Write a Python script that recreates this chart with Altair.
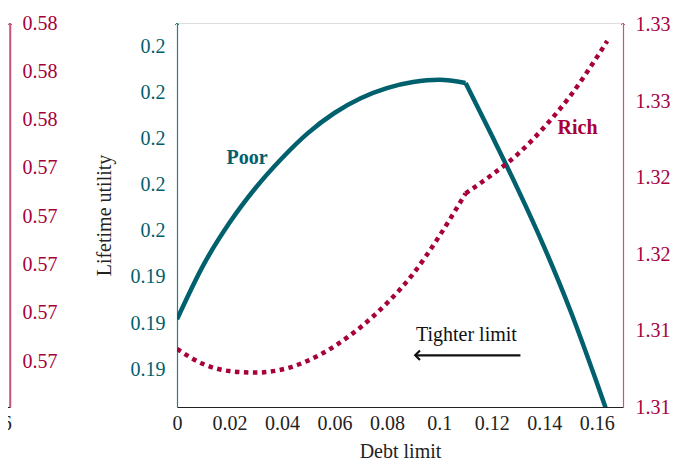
import altair as alt
import pandas as pd

# ---- data ----
# Poor households: rising part up to the kink, then falling part
poor_rise_x = [0.0, 0.01, 0.02, 0.03, 0.04, 0.05, 0.06, 0.07, 0.08, 0.09, 0.10, 0.11]
poor_rise_y = [0.19308, 0.19425, 0.19517, 0.19593, 0.19657, 0.19712, 0.19755, 0.19787,
               0.19809, 0.19822, 0.19827, 0.19820]
poor_fall_x = [0.11, 0.12, 0.13, 0.14, 0.15, 0.16, 0.165]
poor_fall_y = [0.19820, 0.19706, 0.19589, 0.19464, 0.19326, 0.19171, 0.19090]

# Rich households
rich_rise_x = [0.0, 0.01, 0.02, 0.03, 0.04, 0.05, 0.06, 0.07, 0.08, 0.09, 0.10, 0.11]
rich_rise_y = [1.31304, 1.31225, 1.31188, 1.31180, 1.31196, 1.31243, 1.31318, 1.31418,
               1.31543, 1.31697, 1.31895, 1.32118]
rich_fall_x = [0.11, 0.12, 0.13, 0.14, 0.15, 0.16, 0.164]
rich_fall_y = [1.32118, 1.32215, 1.32325, 1.32465, 1.32630, 1.32830, 1.32916]

x_ticks = [0, 0.02, 0.04, 0.06, 0.08, 0.1, 0.12, 0.14, 0.16]
left_ticks = [0.192, 0.193, 0.194, 0.195, 0.196, 0.197, 0.198, 0.199]
right_ticks = [1.31, 1.314, 1.318, 1.322, 1.326, 1.33]
ghost_ticks = [0.5733, 0.5737, 0.5741, 0.5745, 0.5749, 0.5753, 0.5757, 0.5761]

x_domain = [0, 0.17]
left_domain = [0.19118, 0.1995]
right_domain = [1.31, 1.3301]
ghost_domain = [0.57292, 0.5761]
ghost_x_domain = [0, 0.168]

labels_poor = pd.DataFrame({"x": [0.0267], "y": [0.19658], "t": ["Poor"]})
labels_rich = pd.DataFrame({"x": [0.1527], "y": [1.32461], "t": ["Rich"]})
annot = pd.DataFrame({"x": [0.1103], "y": [0.19274], "t": ["Tighter limit"]})
arrow = pd.DataFrame({"x": [0.1309], "x2": [0.0908], "y": [0.19230]})

TEAL = "#00606e"
CRIMSON = "#a8003b"
TEAL_AX = "#2f7c88"
CRIMSON_AX = "#c85580"
FONT = "Liberation Serif"
FS = 20

poor_df = pd.concat([
    pd.DataFrame({"x": poor_rise_x, "y": poor_rise_y, "seg": "a"}),
    pd.DataFrame({"x": poor_fall_x, "y": poor_fall_y, "seg": "b"}),
])
rich_df = pd.concat([
    pd.DataFrame({"x": rich_rise_x, "y": rich_rise_y, "seg": "a"}),
    pd.DataFrame({"x": rich_fall_x, "y": rich_fall_y, "seg": "b"}),
])

xscale = alt.Scale(domain=x_domain, nice=False, zero=False)
lscale = alt.Scale(domain=left_domain, nice=False, zero=False)
rscale = alt.Scale(domain=right_domain, nice=False, zero=False)

x_axis = alt.Axis(values=x_ticks, format="~g", title="Debt limit", grid=False, ticks=False,
                  domainColor="#222222", domainWidth=1.2, labelPadding=6, titlePadding=8,
                  labelFont=FONT, labelFontSize=FS, titleFont=FONT, titleFontSize=FS,
                  titleFontWeight="normal", labelColor="#222222", titleColor="#222222",
                  labelFlush=False)

poor_line = alt.Chart(poor_df).mark_line(color=TEAL, strokeWidth=4.5, interpolate="monotone",
                                         clip=True).encode(
    x=alt.X("x:Q", scale=xscale, axis=x_axis),
    y=alt.Y("y:Q", scale=lscale,
            axis=alt.Axis(orient="left", values=left_ticks, format=".2~r", title="Lifetime utility",
                          grid=False, ticks=False, domainColor=TEAL_AX, domainWidth=1.2,
                          labelColor=TEAL, labelPadding=12, titlePadding=16, labelFont=FONT,
                          labelFontSize=FS, titleFont=FONT, titleFontSize=FS,
                          titleFontWeight="normal", titleColor="#222222")),
    detail="seg:N",
)
poor_text = alt.Chart(labels_poor).mark_text(font=FONT, fontSize=FS, fontWeight="bold",
                                             color=TEAL).encode(
    x=alt.X("x:Q", scale=xscale), y=alt.Y("y:Q", scale=lscale), text="t:N")
tighter_text = alt.Chart(annot).mark_text(font=FONT, fontSize=FS, color="#111111").encode(
    x=alt.X("x:Q", scale=xscale), y=alt.Y("y:Q", scale=lscale), text="t:N")
arrow_rule = alt.Chart(arrow).mark_rule(color="#111111", strokeWidth=2.2).encode(
    x=alt.X("x:Q", scale=xscale), x2="x2:Q", y=alt.Y("y:Q", scale=lscale))
arrow_head = alt.Chart(arrow).mark_point(shape="M1,-1L0,0L1,1", filled=False, size=90,
                                         color="#111111", strokeWidth=2.2, opacity=1).encode(
    x=alt.X("x2:Q", scale=xscale), y=alt.Y("y:Q", scale=lscale))
left_tip = alt.Chart(alt.Data(values=[{}])).mark_point(
    shape="M-1,1L0,0L1,1", filled=False, size=16, color=TEAL_AX, strokeWidth=1, opacity=1
).encode(x=alt.value(0), y=alt.value(0))

rich_line = alt.Chart(rich_df).mark_line(color=CRIMSON, strokeWidth=4.5, strokeDash=[4.5, 4.5],
                                         interpolate="monotone", clip=True).encode(
    x=alt.X("x:Q", scale=xscale),
    y=alt.Y("y:Q", scale=rscale,
            axis=alt.Axis(orient="right", values=right_ticks, format=".2f", title=None,
                          grid=False, ticks=False, domainColor=CRIMSON_AX, domainWidth=1.2,
                          labelColor=CRIMSON, labelPadding=12, labelFont=FONT, labelFontSize=FS)),
    detail="seg:N",
)
rich_text = alt.Chart(labels_rich).mark_text(font=FONT, fontSize=FS, fontWeight="bold",
                                             color=CRIMSON).encode(
    x=alt.X("x:Q", scale=xscale), y=alt.Y("y:Q", scale=rscale), text="t:N")
right_tip = alt.Chart(alt.Data(values=[{}])).mark_point(
    shape="M-1,1L0,0L1,1", filled=False, size=16, color=CRIMSON_AX, strokeWidth=1, opacity=1
).encode(x=alt.value(446), y=alt.value(0))

left_group = alt.layer(poor_line, poor_text, tighter_text, arrow_rule, arrow_head, left_tip)
right_group = alt.layer(rich_line, rich_text, right_tip)
main = alt.layer(left_group, right_group).resolve_scale(y="independent").properties(
    width=446, height=384)

# partially visible axis at the far left edge
ghost_df = pd.DataFrame({"x": [0.0], "y": [ghost_domain[0]]})
ghost_pts = alt.Chart(ghost_df).mark_point(opacity=0).encode(
    x=alt.X("x:Q", scale=alt.Scale(domain=ghost_x_domain, nice=False),
            axis=alt.Axis(values=x_ticks, format="~g", title=None, grid=False, ticks=False,
                          domainColor="#222222", domainWidth=1.2, labelPadding=6,
                          labelFont=FONT, labelFontSize=FS, labelColor="#222222",
                          labelFlush=False)),
    y=alt.Y("y:Q", scale=alt.Scale(domain=ghost_domain, nice=False, zero=False),
            axis=alt.Axis(orient="right", values=ghost_ticks, format=".2f", title=None,
                          grid=False, ticks=False, domainColor=CRIMSON_AX, domainWidth=1.5,
                          labelColor=CRIMSON, labelPadding=12, labelFont=FONT, labelFontSize=FS)),
)
ghost_edge = alt.Chart(alt.Data(values=[{}])).mark_rule(color=CRIMSON_AX, strokeWidth=1.5).encode(
    x=alt.value(340), y=alt.value(0), y2=alt.value(384))
ghost_tip = alt.Chart(alt.Data(values=[{}])).mark_point(
    shape="M-1,1L0,0L1,1", filled=False, size=16, color=CRIMSON_AX, strokeWidth=1, opacity=1
).encode(x=alt.value(340), y=alt.value(0))
ghost = alt.layer(ghost_pts, ghost_edge, ghost_tip).properties(width=340, height=384)

chart = alt.hconcat(ghost, main, spacing=35).properties(
    padding={"left": -344, "top": 4, "right": 0, "bottom": 0}
).configure_view(stroke=None).configure(background="white")

chart.save("out.html", embed_options={"renderer": "svg", "actions": False})
